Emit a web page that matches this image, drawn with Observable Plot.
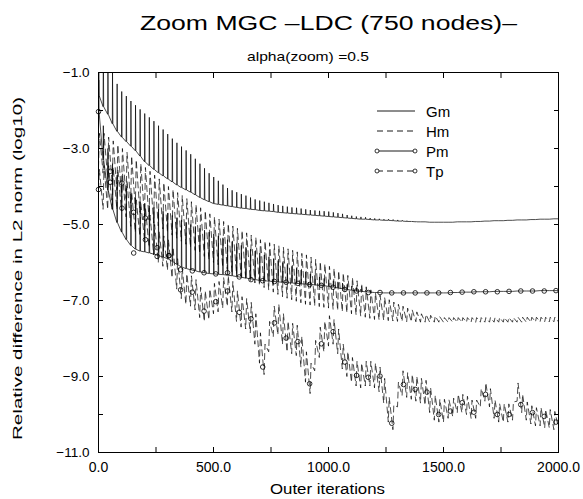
<!DOCTYPE html>
<html><head><meta charset="utf-8">
<script src="https://cdn.jsdelivr.net/npm/d3@7"></script>
<script src="https://cdn.jsdelivr.net/npm/@observablehq/plot@0.6"></script>
<style>
body{margin:0;background:#fff;}
#chart{position:relative;width:583px;height:499px;}
</style></head><body><div id="chart"></div>
<script>
// ---- data (log10 of relative L2 difference) ----
const cycleStart = [0,20,40,60,80,100,120,140,160,180,200,220,240,260,280,300,320,340,360,380,400,420,440,460,480,500,520,540,560,580,600,620,640,660,680,700,720,740,760,780,800,820,840,860,880,900,920,940,960,980,1000,1020,1040,1060,1080,1100,1120,1140,1160,1180,1200,1220,1240,1260,1280,1300,1320,1340,1360,1380,1400,1420,1440,1460,1480,1500,1520,1540,1560,1580,1600,1620,1640,1660,1680,1700,1720,1740,1760,1780,1800,1820,1840,1860,1880,1900,1920,1940,1960,1980,2000];

const gmLow = [-1.6,-1.9,-2.1,-2.35,-2.55,-2.7,-2.82,-2.94,-3.06,-3.2,
 -3.35,-3.45,-3.55,-3.64,-3.72,-3.8,-3.88,-3.96,-4.03,-4.09,
 -4.15,-4.22,-4.29,-4.35,-4.4,-4.45,-4.47,-4.49,-4.51,-4.53,
 -4.55,-4.57,-4.58,-4.6,-4.61,-4.63,-4.64,-4.65,-4.66,-4.68,
 -4.69,-4.7,-4.71,-4.72,-4.73,-4.74,-4.75,-4.76,-4.77,-4.78,
 -4.79,-4.8,-4.81,-4.82,-4.83,-4.84,-4.85,-4.86,-4.86,-4.87,
 -4.88,-4.88,-4.89,-4.89,-4.9,-4.91,-4.91,-4.92,-4.92,-4.93,
 -4.93,-4.93,-4.94,-4.94,-4.94,-4.94,-4.94,-4.94,-4.93,-4.93,
 -4.93,-4.93,-4.92,-4.92,-4.91,-4.91,-4.9,-4.9,-4.9,-4.89,
 -4.89,-4.88,-4.88,-4.88,-4.87,-4.87,-4.86,-4.86,-4.86,-4.85,
 -4.85];
const gmHigh = [-0.2,-0.3,-0.5,-1.0,-1.3,-1.5,-1.62,-1.75,-1.86,-1.97,
 -2.08,-2.18,-2.28,-2.4,-2.5,-2.62,-2.74,-2.85,-2.95,-3.05,
 -3.15,-3.27,-3.4,-3.52,-3.65,-3.75,-3.85,-3.95,-4.04,-4.1,
 -4.15,-4.2,-4.24,-4.29,-4.34,-4.37,-4.4,-4.43,-4.46,-4.49,
 -4.51,-4.53,-4.55,-4.56,-4.58,-4.6,-4.62,-4.63,-4.64,-4.65,
 -4.66,-4.68,-4.7,-4.72,-4.75,-4.77,-4.79,-4.8,-4.81,-4.83,
 -4.84,-4.85,-4.86,-4.86,-4.87,-4.88,-4.89,-4.9,-4.91,-4.92,
 -4.93,-4.93,-4.94,-4.94,-4.94,-4.94,-4.94,-4.94,-4.93,-4.93,
 -4.93,-4.93,-4.92,-4.92,-4.91,-4.91,-4.9,-4.9,-4.9,-4.89,
 -4.89,-4.88,-4.88,-4.88,-4.87,-4.87,-4.86,-4.86,-4.86,-4.85,
 -4.85];

const hmLow = [-3.5,-3.65,-3.8,-3.95,-4.1,-4.2,-4.32,-4.44,-4.56,-4.68,
 -4.8,-4.88,-4.96,-5.04,-5.12,-5.2,-5.28,-5.36,-5.44,-5.52,
 -5.6,-5.68,-5.76,-5.84,-5.92,-6.0,-6.06,-6.12,-6.18,-6.24,
 -6.3,-6.36,-6.42,-6.48,-6.54,-6.6,-6.66,-6.72,-6.78,-6.84,
 -6.9,-6.94,-6.98,-7.02,-7.06,-7.1,-7.12,-7.14,-7.16,-7.18,
 -7.2,-7.23,-7.26,-7.29,-7.32,-7.35,-7.38,-7.41,-7.44,-7.47,
 -7.5,-7.51,-7.52,-7.53,-7.54,-7.55,-7.55,-7.56,-7.56,-7.56,
 -7.57,-7.57,-7.57,-7.57,-7.57,-7.57,-7.57,-7.57,-7.57,-7.57,
 -7.57,-7.57,-7.57,-7.57,-7.57,-7.57,-7.57,-7.57,-7.57,-7.57,
 -7.57,-7.57,-7.57,-7.57,-7.57,-7.56,-7.56,-7.56,-7.56,-7.56,
 -7.56];
const hmHigh = [-2.6,-2.6,-2.7,-2.8,-2.9,-3.0,-3.1,-3.2,-3.3,-3.4,
 -3.5,-3.6,-3.7,-3.8,-3.9,-4.0,-4.08,-4.16,-4.24,-4.32,
 -4.4,-4.48,-4.56,-4.64,-4.72,-4.8,-4.86,-4.92,-4.98,-5.04,
 -5.1,-5.16,-5.22,-5.28,-5.34,-5.4,-5.44,-5.48,-5.52,-5.56,
 -5.6,-5.64,-5.68,-5.72,-5.76,-5.8,-5.86,-5.92,-5.98,-6.04,
 -6.1,-6.16,-6.22,-6.28,-6.34,-6.4,-6.48,-6.56,-6.64,-6.72,
 -6.8,-6.86,-6.92,-6.98,-7.04,-7.1,-7.15,-7.2,-7.25,-7.3,
 -7.35,-7.37,-7.39,-7.41,-7.43,-7.45,-7.45,-7.45,-7.45,-7.45,
 -7.45,-7.45,-7.45,-7.45,-7.45,-7.45,-7.45,-7.45,-7.45,-7.45,
 -7.45,-7.44,-7.44,-7.44,-7.44,-7.44,-7.44,-7.44,-7.44,-7.44,
 -7.44];

const pmLow = [-2.03,-3.3,-4.1,-4.6,-4.95,-5.2,-5.4,-5.55,-5.65,-5.7,
 -5.72,-5.75,-5.78,-5.82,-5.86,-5.9,-5.97,-6.05,-6.12,-6.16,
 -6.19,-6.22,-6.25,-6.27,-6.29,-6.3,-6.31,-6.32,-6.33,-6.35,
 -6.37,-6.39,-6.41,-6.43,-6.45,-6.47,-6.48,-6.49,-6.5,-6.51,
 -6.52,-6.53,-6.54,-6.55,-6.56,-6.57,-6.58,-6.59,-6.6,-6.61,
 -6.63,-6.65,-6.67,-6.69,-6.71,-6.73,-6.75,-6.76,-6.77,-6.78,
 -6.79,-6.79,-6.8,-6.8,-6.8,-6.8,-6.8,-6.8,-6.8,-6.8,
 -6.8,-6.8,-6.8,-6.8,-6.8,-6.8,-6.8,-6.79,-6.79,-6.78,
 -6.78,-6.78,-6.77,-6.77,-6.77,-6.77,-6.76,-6.76,-6.76,-6.76,
 -6.76,-6.75,-6.75,-6.75,-6.75,-6.75,-6.74,-6.74,-6.74,-6.74,
 -6.74];
const pmHigh = [-1.2,-2.4,-3.0,-3.4,-3.7,-3.9,-4.05,-4.2,-4.3,-4.4,
 -4.45,-4.5,-4.55,-4.6,-4.65,-4.7,-4.76,-4.82,-4.88,-4.94,
 -5.0,-5.05,-5.1,-5.15,-5.2,-5.25,-5.3,-5.35,-5.4,-5.45,
 -5.5,-5.55,-5.6,-5.65,-5.7,-5.75,-5.8,-5.85,-5.9,-5.95,
 -6.0,-6.05,-6.1,-6.15,-6.2,-6.25,-6.3,-6.34,-6.38,-6.42,
 -6.45,-6.48,-6.51,-6.54,-6.58,-6.62,-6.66,-6.7,-6.73,-6.76,
 -6.79,-6.79,-6.8,-6.8,-6.8,-6.8,-6.8,-6.8,-6.8,-6.8,
 -6.8,-6.8,-6.8,-6.8,-6.8,-6.8,-6.8,-6.79,-6.79,-6.78,
 -6.78,-6.78,-6.77,-6.77,-6.77,-6.77,-6.76,-6.76,-6.76,-6.76,
 -6.76,-6.75,-6.75,-6.75,-6.75,-6.75,-6.74,-6.74,-6.74,-6.74,
 -6.74];

const tpLow = [-4.08,-4.6,-4.6,-4.6,-4.6,-4.65,-4.8,-5.05,-5.2,-5.3,
 -5.4,-5.6,-5.8,-6.0,-6.1,-6.2,-6.4,-6.7,-6.95,-7.1,
 -7.15,-7.25,-7.45,-7.55,-7.5,-7.35,-7.3,-7.2,-7.15,-7.3,
 -7.55,-7.7,-7.75,-7.85,-8.15,-8.65,-8.95,-8.35,-7.95,-7.9,
 -8.15,-8.35,-8.4,-8.45,-8.75,-9.15,-9.45,-8.85,-8.5,-8.35,
 -8.2,-8.15,-8.4,-8.8,-9.0,-9.15,-9.25,-9.3,-9.25,-9.25,
 -9.3,-9.4,-9.7,-10.2,-10.4,-9.8,-9.5,-9.55,-9.6,-9.65,
 -9.7,-9.75,-9.95,-10.15,-10.2,-10.2,-10.1,-10.05,-9.95,-9.95,
 -10.0,-10.1,-10.1,-9.8,-9.65,-9.8,-10.1,-10.2,-10.2,-10.2,
 -10.15,-9.65,-9.95,-10.15,-10.25,-10.3,-10.3,-10.35,-10.35,-10.4,
 -10.35];
const tpHigh = [-3.55,-3.45,-3.45,-3.5,-3.55,-3.65,-3.85,-4.15,-4.35,-4.45,
 -4.55,-4.75,-5.0,-5.2,-5.3,-5.4,-5.6,-5.9,-6.15,-6.3,
 -6.35,-6.45,-6.65,-6.75,-6.7,-6.55,-6.5,-6.4,-6.35,-6.5,
 -6.75,-6.9,-6.95,-7.05,-7.35,-7.85,-8.15,-7.55,-7.15,-7.1,
 -7.35,-7.55,-7.6,-7.65,-7.95,-8.35,-8.65,-8.05,-7.7,-7.55,
 -7.4,-7.5,-7.75,-8.15,-8.35,-8.5,-8.6,-8.65,-8.6,-8.6,
 -8.65,-8.75,-9.05,-9.55,-9.75,-9.15,-8.85,-8.9,-8.95,-9.0,
 -9.05,-9.1,-9.3,-9.5,-9.6,-9.6,-9.62,-9.57,-9.47,-9.47,
 -9.52,-9.62,-9.62,-9.32,-9.17,-9.32,-9.62,-9.72,-9.72,-9.72,
 -9.67,-9.17,-9.47,-9.67,-9.77,-9.82,-9.82,-9.87,-9.87,-9.92,
 -9.87];

const markIters = [0,51,102,153,204,255,306,357,408,459,510,561,612,663,714,765,816,867,918,969,1020,1071,1122,1173,1224,1275,1326,1377,1428,1479,1530,1581,1632,1683,1734,1785,1836,1887,1938,1989];
const pmMarks = [-2.03,-3.6,-4.57,-5.75,-5.4,-5.84,-5.82,-6.19,-6.22,-6.27,-6.3,-6.27,-6.38,-6.45,-6.48,-6.5,-6.52,-6.55,-6.58,-6.6,-6.65,-6.71,-6.75,-6.79,-6.79,-6.8,-6.8,-6.8,-6.8,-6.8,-6.79,-6.78,-6.77,-6.77,-6.77,-6.76,-6.75,-6.75,-6.75,-6.74];
const tpMarks = [-4.08,-3.89,-3.91,-4.68,-4.83,-5.61,-5.82,-6.72,-6.78,-7.28,-7.03,-6.75,-7.31,-7.48,-8.75,-7.59,-7.99,-8.08,-9.19,-8.14,-7.82,-8.62,-8.97,-9.02,-8.99,-10.23,-9.21,-9.34,-9.41,-10.0,-9.91,-9.69,-9.94,-9.47,-10.0,-10.0,-9.74,-9.95,-10.05,-10.2];

const xTicks = [0,250,500,750,1000,1250,1500,1750,2000];
const xLabels = [0,500,1000,1500,2000];
const yTicks = [-1,-2,-3,-4,-5,-6,-7,-8,-9,-10,-11];
const yLabels = [-1,-3,-5,-7,-9,-11];
const seriesNames = ["Gm","Hm","Pm","Tp"];

// ---- build line geometry from the per-cycle lows/highs ----
function spikeSeries(lows, highs) {
  const pts = [];
  cycleStart.forEach((it, i) => {
    pts.push({iter: it, v: lows[i]});
    if (i < cycleStart.length - 1 && highs[i] > lows[i]) {
      pts.push({iter: it + 1, v: highs[i]});
      pts.push({iter: it + 2.5, v: lows[i]});
    }
  });
  return pts;
}
function zigzagSeries(lows, highs) {
  const pts = [];
  cycleStart.forEach((it, i) => {
    pts.push({iter: it, v: lows[i]});
    if (i < cycleStart.length - 1) pts.push({iter: it + 4, v: highs[i]});
  });
  return pts;
}
const gm = spikeSeries(gmLow, gmHigh);
const pm = spikeSeries(pmLow, pmHigh);
const hm = zigzagSeries(hmLow, hmHigh);
const tp = zigzagSeries(tpLow, tpHigh);
const pmDots = markIters.map((it, i) => ({iter: it, v: pmMarks[i]}));
const tpDots = markIters.map((it, i) => ({iter: it, v: tpMarks[i]}));

const font = "'Liberation Sans', Arial, Helvetica, sans-serif";
const fmt = d3.format(".1f");
const W = 583, H = 499, ML = 98, MR = 25, MT = 72, MB = 47;

const plot = Plot.plot({
  width: W, height: H,
  marginLeft: ML, marginRight: MR, marginTop: MT, marginBottom: MB,
  style: {fontFamily: font, fontSize: "13px", background: "white", color: "black"},
  x: {domain: [0, 2000]},
  y: {domain: [-11, -1]},
  marks: [
    Plot.line(gm, {x: "iter", y: "v", stroke: "black", strokeWidth: 0.7, clip: true}),
    Plot.line(pm, {x: "iter", y: "v", stroke: "black", strokeWidth: 0.7, clip: true}),
    Plot.line(hm, {x: "iter", y: "v", stroke: "black", strokeWidth: 0.7, strokeDasharray: "6,4", clip: true}),
    Plot.line(tp, {x: "iter", y: "v", stroke: "black", strokeWidth: 0.7, strokeDasharray: "6,4", clip: true}),
    Plot.dot(pmDots, {x: "iter", y: "v", r: 2.3, stroke: "black", fill: "none", strokeWidth: 0.8}),
    Plot.dot(tpDots, {x: "iter", y: "v", r: 2.3, stroke: "black", fill: "none", strokeWidth: 0.8}),
    Plot.frame({stroke: "black", strokeWidth: 1}),
    Plot.axisX(xTicks, {anchor: "bottom", tickSize: -5, tickFormat: () => "", label: null}),
    Plot.axisX(xTicks, {anchor: "top", tickSize: -5, tickFormat: () => "", label: null}),
    Plot.axisY(yTicks, {anchor: "left", tickSize: -5, tickFormat: () => "", label: null}),
    Plot.axisY(yTicks, {anchor: "right", tickSize: -5, tickFormat: () => "", label: null}),
    Plot.axisX(xLabels, {anchor: "bottom", tickSize: 0, tickPadding: 10, tickFormat: fmt, label: null, fontSize: 14}),
    Plot.axisY(yLabels, {anchor: "left", tickSize: 0, tickPadding: 9, tickFormat: fmt, label: null, fontSize: 13.5})
  ]
});
document.getElementById("chart").appendChild(plot);

// ---- titles, axis labels and legend ----
const svg = d3.select(plot);
function label(x, y, txt, size, len) {
  const t = svg.append("text").attr("x", x).attr("y", y).attr("text-anchor", "start")
    .style("font-family", font).style("font-size", size + "px").text(txt);
  if (len) t.attr("textLength", len).attr("lengthAdjust", "spacingAndGlyphs");
  return t;
}
label(140, 30, "Zoom MGC \u2013LDC (750 nodes)\u2013", 20, 377);
label(247, 61, "alpha(zoom) =0.5", 13, 122);
label(270, 494, "Outer iterations", 14, 115);
svg.append("text").attr("transform", "translate(22,440) rotate(-90)").attr("text-anchor", "start")
  .style("font-family", font).style("font-size", "13px")
  .attr("textLength", 343).attr("lengthAdjust", "spacingAndGlyphs")
  .text("Relative difference in L2 norm (log10)");

const lg = svg.append("g");
seriesNames.forEach((name, i) => {
  const y = 111 + i * 20;
  const dashed = name === "Hm" || name === "Tp";
  lg.append("line").attr("x1", 377).attr("x2", 415).attr("y1", y).attr("y2", y)
    .attr("stroke", "black").attr("stroke-width", 0.9).attr("stroke-dasharray", dashed ? "6,4" : null);
  if (name === "Pm" || name === "Tp") {
    [377, 415].forEach(x => lg.append("circle").attr("cx", x).attr("cy", y).attr("r", 2)
      .attr("fill", "white").attr("stroke", "black").attr("stroke-width", 0.8));
  }
  lg.append("text").attr("x", 426).attr("y", y + 5.5).attr("text-anchor", "start")
    .style("font-family", font).style("font-size", "15px").text(name);
});
</script></body></html>
